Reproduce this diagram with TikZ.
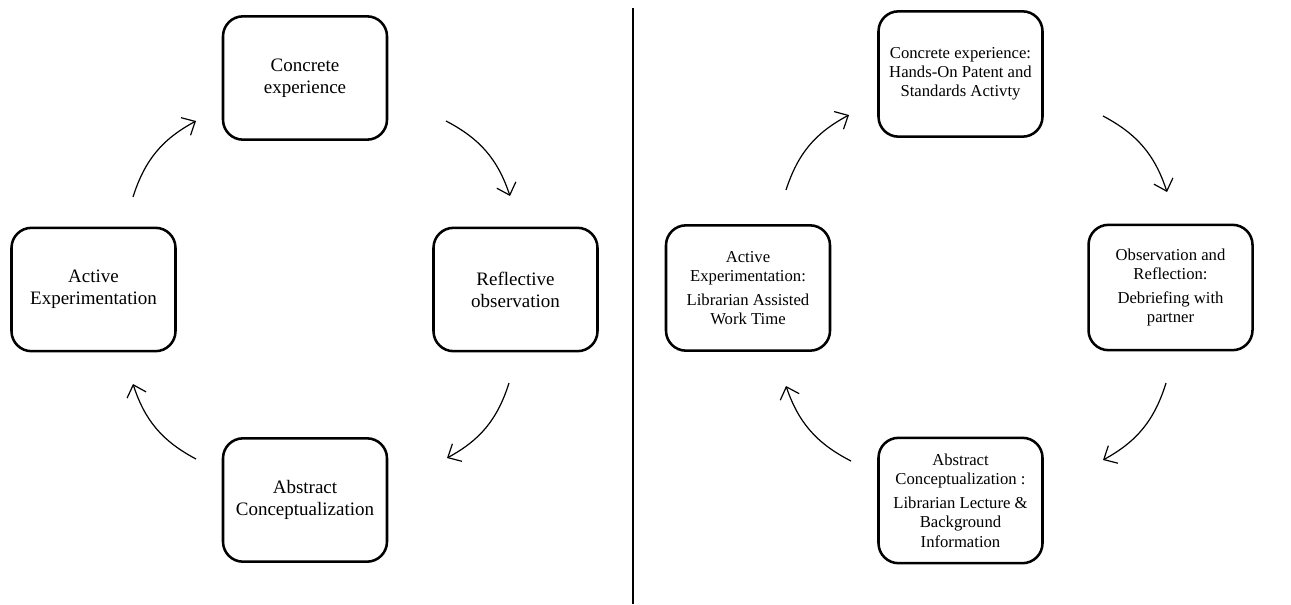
\documentclass[tikz,border=0pt]{standalone}
\usepackage{fontspec}
\setmainfont{Liberation Serif}
\usetikzlibrary{arrows.meta}
\begin{document}
\begin{tikzpicture}[x=0.75pt,y=-0.75pt,
  box/.style={draw, line width=1.9pt, rounded corners=15pt, minimum width=123pt, minimum height=92.5pt, align=center, inner sep=0pt},
  bigtext/.style={font=\fontsize{14.25}{16.5}\selectfont},
  smalltext/.style={font=\fontsize{12.5}{14.3}\selectfont},
  cyc/.style={line width=0.9pt, -{Straight Barb[length=8pt,width=15pt,line width=0.9pt]}, bend left=22}]
\useasboundingbox (0,0) rectangle (1291,604);

% left diagram
\node[box,bigtext] (lce) at (305,78) {Concrete\\experience};
\node[box,bigtext] (lro) at (515.5,289.5) {Reflective\\observation};
\node[box,bigtext] (lae) at (93.5,289.5) {Active\\Experimentation};
\node[box,bigtext] (lac) at (305,500) {Abstract\\Conceptualization};

\coordinate (l1s) at (133,197); \coordinate (l1e) at (196,121);
\coordinate (l2s) at (446,121); \coordinate (l2e) at (510,196);
\coordinate (l3s) at (509,383); \coordinate (l3e) at (447,458);
\coordinate (l4s) at (196,459); \coordinate (l4e) at (133,384);
\draw[cyc] (l1s) to (l1e);
\draw[cyc] (l2s) to (l2e);
\draw[cyc] (l3s) to (l3e);
\draw[cyc] (l4s) to (l4e);

% divider
\coordinate (dtop) at (633,8); \coordinate (dbot) at (633,604);
\draw[line width=0.8pt] (dtop) -- (dbot);

% right diagram
\node[box,smalltext, minimum height=94pt] (rce) at (960.5,74) {Concrete experience:\\Hands-On Patent and\\Standards Activty};
\node[box,smalltext, minimum height=94pt] (ror) at (1170.5,287.5) {Observation and\\Reflection:\\[4pt]Debriefing with\\partner};
\node[box,smalltext, minimum height=94pt] (rae) at (748,288) {Active\\Experimentation:\\[4pt]Librarian Assisted\\Work Time};
\node[box,smalltext, minimum height=94pt] (rac) at (960.5,500.5) {Abstract\\Conceptualization :\\[4pt]Librarian Lecture \&\\Background\\Information};

\coordinate (r1s) at (786,190); \coordinate (r1e) at (849,115);
\coordinate (r2s) at (1103,116); \coordinate (r2e) at (1167,192);
\coordinate (r3s) at (1166,383); \coordinate (r3e) at (1103,460);
\coordinate (r4s) at (851,461); \coordinate (r4e) at (786,386);
\draw[cyc] (r1s) to (r1e);
\draw[cyc] (r2s) to (r2e);
\draw[cyc] (r3s) to (r3e);
\draw[cyc] (r4s) to (r4e);
\end{tikzpicture}
\end{document}
